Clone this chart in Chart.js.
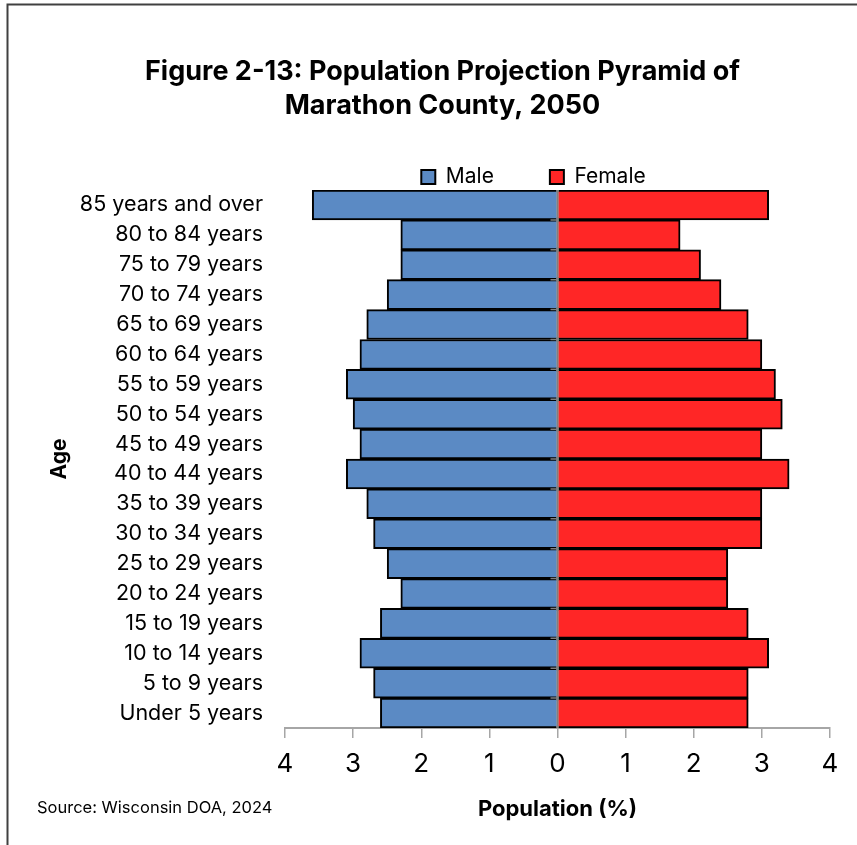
<!DOCTYPE html>
<html>
<head>
<meta charset="utf-8">
<title>Population Projection Pyramid of Marathon County, 2050</title>
<script src="https://cdn.jsdelivr.net/npm/chart.js@4.4.1/dist/chart.umd.min.js"></script>
<style>
  html, body { margin: 0; padding: 0; background: #ffffff; }
  #wrap { width: 857px; height: 845px; position: relative; }
</style>
</head>
<body>
<div id="wrap"><canvas id="pyramid" width="857" height="845"></canvas></div>
<script>
// Age groups, oldest at the top
const ageGroups = [
  '85 years and over', '80 to 84 years', '75 to 79 years', '70 to 74 years',
  '65 to 69 years', '60 to 64 years', '55 to 59 years', '50 to 54 years',
  '45 to 49 years', '40 to 44 years', '35 to 39 years', '30 to 34 years',
  '25 to 29 years', '20 to 24 years', '15 to 19 years', '10 to 14 years',
  '5 to 9 years', 'Under 5 years'
];

// Share of total population (%) by sex
const malePct   = [3.6, 2.3, 2.3, 2.5, 2.8, 2.9, 3.1, 3.0, 2.9, 3.1, 2.8, 2.7, 2.5, 2.3, 2.6, 2.9, 2.7, 2.6];
const femalePct = [3.1, 1.8, 2.1, 2.4, 2.8, 3.0, 3.2, 3.3, 3.0, 3.4, 3.0, 3.0, 2.5, 2.5, 2.8, 3.1, 2.8, 2.8];

// Axis extent and tick step (percent)
const axisLimit = 4;
const axisStep = 1;

const titleLines = ['Figure 2-13: Population Projection Pyramid of', 'Marathon County, 2050'];
const sourceNote = 'Source: Wisconsin DOA, 2024';

const FONT = 'Inter, "Open Sans", "DejaVu Sans", sans-serif';
Chart.defaults.font.family = FONT;
Chart.defaults.color = '#000000';

// White background, outer frame and source note
const framePlugin = {
  id: 'frame',
  beforeDraw(chart) {
    const ctx = chart.ctx;
    ctx.save();
    ctx.fillStyle = '#ffffff';
    ctx.fillRect(0, 0, chart.width, chart.height);
    ctx.restore();
  },
  afterDraw(chart) {
    const ctx = chart.ctx;
    ctx.save();
    ctx.strokeStyle = '#404040';
    ctx.lineWidth = 2;
    ctx.beginPath();
    ctx.moveTo(7.5, chart.height);
    ctx.lineTo(7.5, 4.5);
    ctx.lineTo(chart.width, 4.5);
    ctx.stroke();
    ctx.fillStyle = '#000000';
    ctx.font = '16.5px ' + FONT;
    ctx.textAlign = 'left';
    ctx.textBaseline = 'middle';
    ctx.fillText(sourceNote, 37, 808);
    ctx.restore();
  }
};

// Vertical axis at zero with short outward ticks between age groups
const zeroAxisPlugin = {
  id: 'zeroAxis',
  afterDatasetsDraw(chart) {
    const x = chart.scales.x.getPixelForValue(0);
    const y = chart.scales.y;
    const area = chart.chartArea;
    const ctx = chart.ctx;
    const band = y.getPixelForValue(1) - y.getPixelForValue(0);
    ctx.save();
    ctx.strokeStyle = '#7f7f7f';
    ctx.lineWidth = 2;
    ctx.beginPath();
    ctx.moveTo(x, area.top);
    ctx.lineTo(x, area.bottom);
    ctx.stroke();
    ctx.lineWidth = 1.5;
    ctx.beginPath();
    for (let i = 1; i < ageGroups.length; i++) {
      const yy = y.getPixelForValue(i) - band / 2;
      ctx.moveTo(x - 7, yy);
      ctx.lineTo(x, yy);
    }
    ctx.stroke();
    ctx.restore();
  }
};

// Place the legend row just above the bars, right of centre
const legendOffsetPlugin = {
  id: 'legendOffset',
  afterLayout(chart) {
    const lg = chart.legend;
    if (!lg) return;
    const dx = 91, dy = -12.5;
    lg.left += dx; lg.right += dx;
    lg.top += dy;
  }
};

new Chart(document.getElementById('pyramid'), {
  type: 'bar',
  data: {
    labels: ageGroups,
    datasets: [
      {
        label: 'Male',
        data: malePct.map(v => -v),
        backgroundColor: '#5b8ac4',
        borderColor: '#000000',
        borderWidth: 2,
        categoryPercentage: 1.0,
        barPercentage: 1.0
      },
      {
        label: 'Female',
        data: femalePct,
        backgroundColor: '#ff2626',
        borderColor: '#000000',
        borderWidth: 2,
        categoryPercentage: 1.0,
        barPercentage: 1.0
      }
    ]
  },
  options: {
    indexAxis: 'y',
    responsive: false,
    animation: false,
    devicePixelRatio: 1,
    layout: { padding: { top: 0, left: 36, right: 8, bottom: 0 } },
    plugins: {
      title: {
        display: true,
        text: titleLines,
        color: '#000000',
        font: { size: 27, weight: 'bold', lineHeight: 1.26 },
        padding: { top: 55, bottom: 0 }
      },
      legend: {
        display: true,
        position: 'top',
        maxHeight: 67,
        labels: {
          color: '#000000',
          font: { size: 21 },
          boxWidth: 14,
          boxHeight: 14,
          padding: 56,
          generateLabels(chart) {
            return chart.data.datasets.map((ds, i) => ({
              text: ds.label,
              fillStyle: ds.backgroundColor,
              strokeStyle: '#000000',
              lineWidth: 2,
              hidden: false,
              datasetIndex: i
            }));
          }
        }
      },
      tooltip: { enabled: false }
    },
    scales: {
      x: {
        stacked: true,
        min: -axisLimit,
        max: axisLimit,
        afterFit(scale) { scale.height = 117; },
        ticks: {
          stepSize: axisStep,
          autoSkip: false,
          maxRotation: 0,
          padding: 11,
          color: '#000000',
          font: { size: 26, lineHeight: 1.2 },
          callback: v => String(Math.abs(v))
        },
        grid: {
          drawOnChartArea: false,
          drawTicks: true,
          tickLength: 10,
          color: '#a6a6a6',
          lineWidth: 1.5
        },
        border: { display: true, color: '#a6a6a6', width: 2 },
        title: {
          display: true,
          text: 'Population (%)',
          color: '#000000',
          font: { size: 22, weight: 'bold', lineHeight: 1.2 },
          padding: { top: 0, bottom: 22 }
        }
      },
      y: {
        stacked: true,
        afterFit(scale) { scale.width = 249; },
        ticks: {
          autoSkip: false,
          padding: 14,
          color: '#000000',
          font: { size: 21.5 }
        },
        grid: { display: false },
        border: { display: false },
        title: {
          display: true,
          text: 'Age',
          color: '#000000',
          font: { size: 21, weight: 'bold', lineHeight: 1.2 },
          padding: { top: 11, bottom: 0 }
        }
      },
      yRight: {
        type: 'category',
        position: 'right',
        display: true,
        afterFit(scale) { scale.width = 19; },
        ticks: { display: false },
        grid: { display: false },
        border: { display: false }
      }
    }
  },
  plugins: [framePlugin, zeroAxisPlugin, legendOffsetPlugin]
});
</script>
</body>
</html>
